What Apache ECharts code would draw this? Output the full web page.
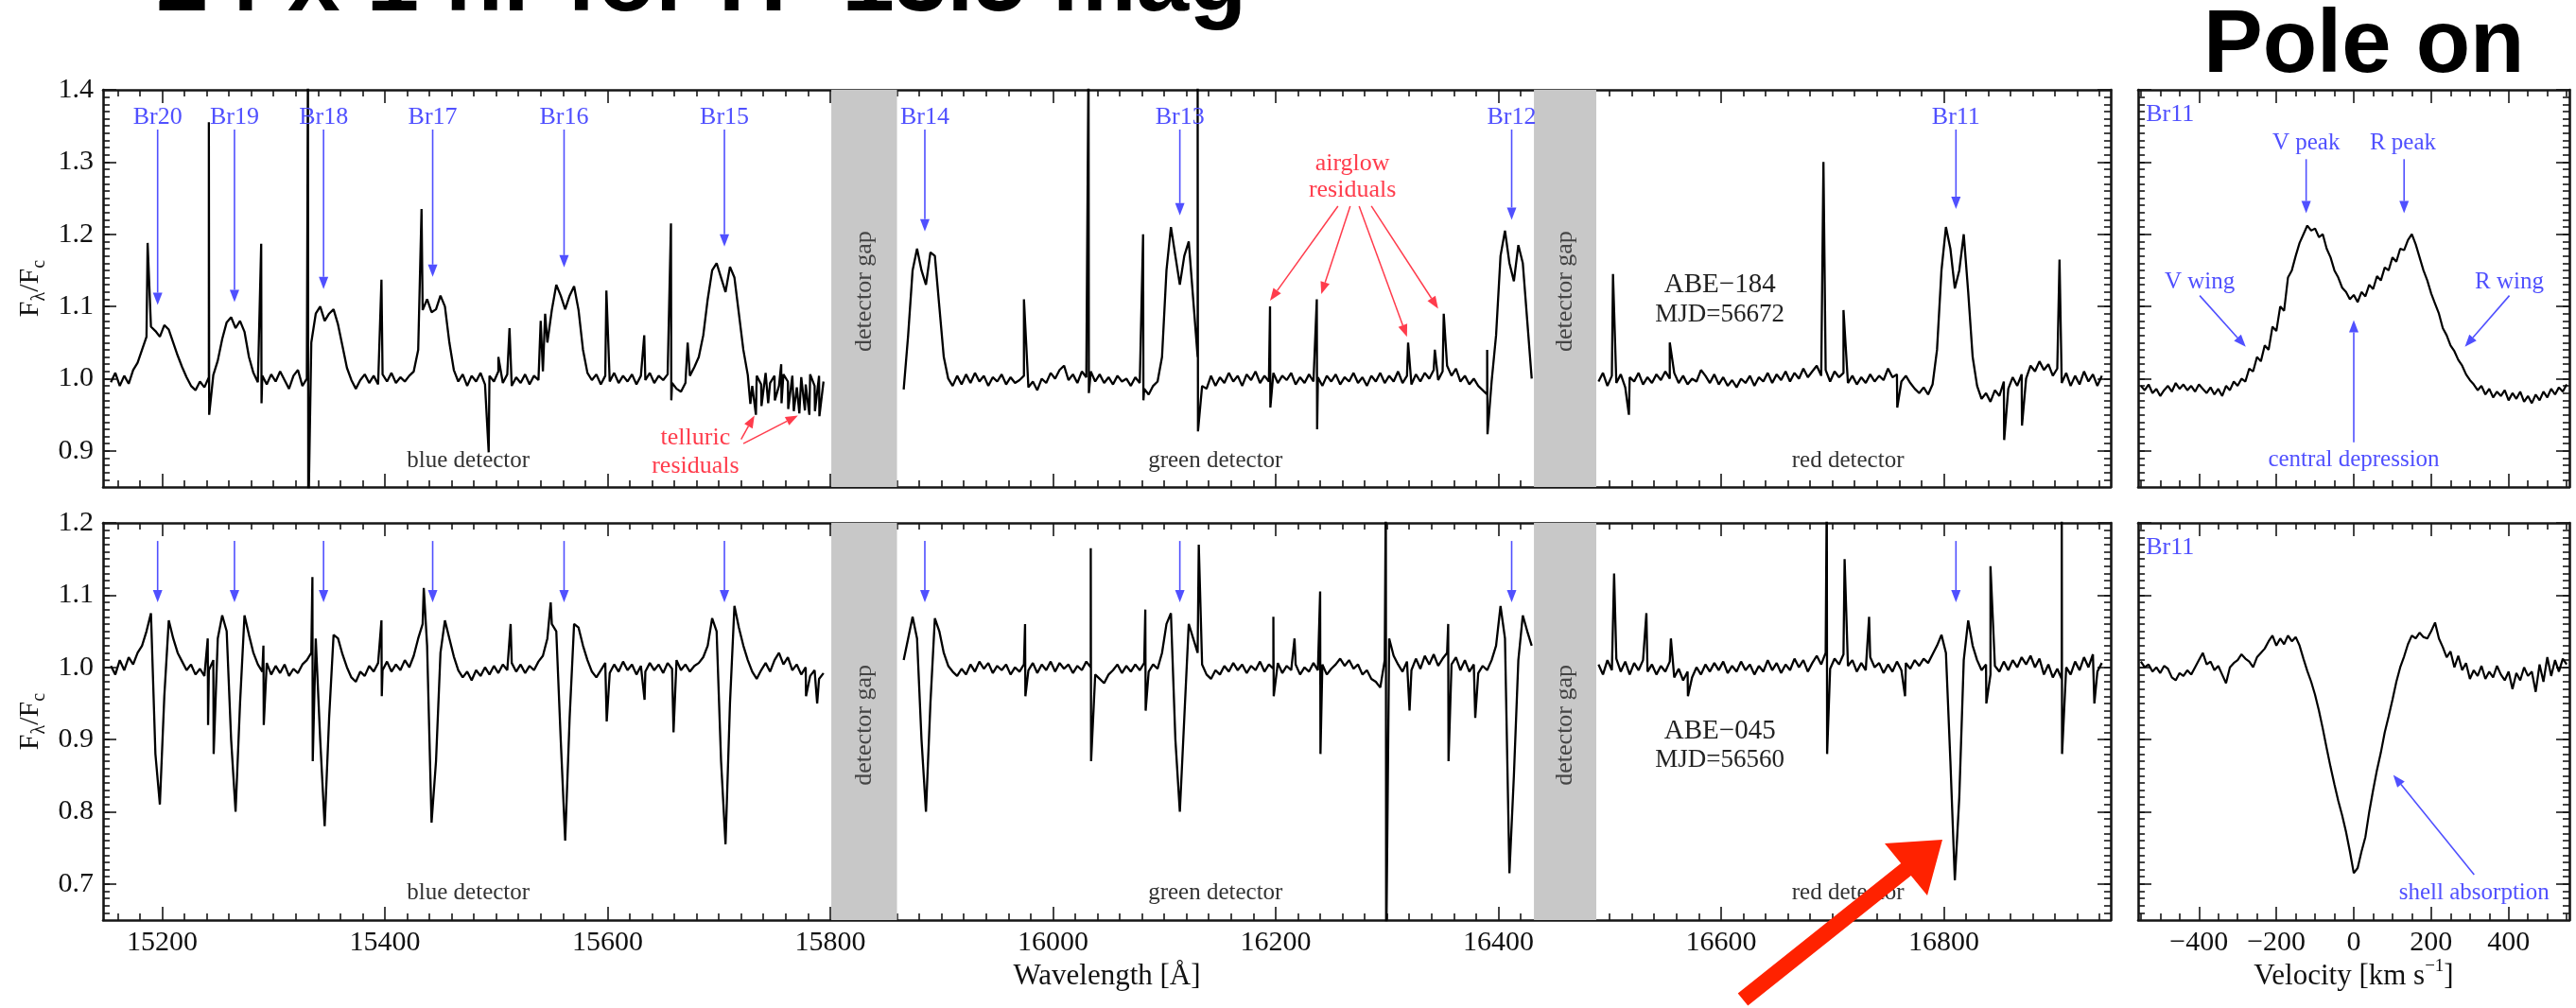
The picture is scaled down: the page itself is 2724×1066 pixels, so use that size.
<!DOCTYPE html>
<html><head><meta charset="utf-8">
<script src="https://cdn.jsdelivr.net/npm/echarts@6/dist/echarts.min.js"></script>
<style>html,body{margin:0;padding:0;background:#fff}#c{width:2724px;height:1066px}</style>
</head><body><div id="c"></div>
<script>
// ---------------- DATA ----------------
const STEP = 4; // Angstrom sampling of the spectra arrays
const blueStart = 15154, greenStart = 15866, redStart = 16490;

// ABE-184 (top, pole-on emitter)
const abe184Blue = [0.995,1.008,0.990,1.004,0.993,1.012,1.022,1.040,1.058,1.072,
1.066,1.058,1.074,1.068,1.050,1.032,1.016,1.002,0.990,0.984,
0.996,0.988,1.002,1.005,1.025,1.055,1.078,1.085,1.070,1.080,
1.065,1.030,1.008,0.995,1.004,0.992,1.006,0.996,1.010,0.998,
0.986,1.004,1.012,0.990,1.000,1.050,1.090,1.100,1.080,1.090,
1.096,1.075,1.045,1.015,0.998,0.986,0.998,1.006,0.994,1.004,
0.992,1.006,0.996,1.008,0.994,1.002,0.996,1.004,1.010,1.040,
1.095,1.110,1.092,1.096,1.115,1.100,1.050,1.012,0.996,1.006,
0.990,1.004,0.996,1.008,0.992,1.004,0.996,1.010,0.994,1.006,
0.990,1.002,0.994,1.006,0.992,1.004,0.998,1.010,1.050,1.095,
1.130,1.115,1.096,1.115,1.128,1.095,1.040,1.008,0.998,1.006,
0.992,1.004,0.996,1.008,0.994,1.004,0.996,1.006,0.992,1.004,
0.998,1.008,0.994,1.004,0.998,1.006,0.994,0.986,0.982,0.994,
1.004,1.016,1.030,1.060,1.110,1.150,1.160,1.140,1.120,1.155,
1.140,1.090,1.040,1.005,0.990,1.004,0.992,1.008,0.994,1.004,
0.990,1.006,0.996,1.004,0.988,1.002,0.992,1.006,0.990,1.004,0.996];
const abe184Green = [0.985,1.060,1.150,1.180,1.150,1.130,1.175,1.170,1.100,1.030,
1.000,0.990,1.004,0.992,1.006,0.994,1.008,0.996,1.004,0.990,
1.002,0.996,1.006,0.992,1.002,0.994,0.998,1.004,0.988,0.996,
0.984,1.000,0.994,1.008,1.000,1.012,1.018,0.998,1.006,0.994,
1.010,1.002,1.010,0.996,1.006,0.994,1.002,0.992,1.004,0.996,
1.000,0.990,1.002,0.994,0.986,0.978,0.990,0.996,1.030,1.150,
1.210,1.170,1.130,1.170,1.190,1.110,1.030,0.990,0.986,1.004,
0.990,1.002,0.994,1.008,0.996,1.004,0.990,1.006,0.998,1.010,
0.994,1.004,0.996,1.008,0.994,1.004,0.998,1.008,0.992,1.002,
0.994,1.006,0.996,1.002,0.990,1.004,0.996,1.006,0.992,1.002,
0.996,1.008,0.994,1.002,0.990,1.004,0.996,1.008,0.994,1.004,
0.996,1.010,0.994,1.004,0.992,1.006,0.996,1.008,1.000,1.012,
0.998,1.010,1.018,1.004,1.014,0.996,1.004,0.992,1.000,0.990,
0.984,0.978,0.996,1.060,1.170,1.205,1.160,1.135,1.185,1.160,
1.080,1.000];
const abe184Red = [0.996,1.008,0.990,1.004,0.994,1.006,0.988,1.002,0.996,1.008,
0.992,1.002,0.994,1.006,0.998,1.010,1.000,1.008,0.994,1.004,
0.992,1.000,0.996,1.012,1.004,0.994,1.006,0.992,1.002,0.990,
0.998,0.988,1.000,0.994,1.004,0.990,1.002,0.996,1.008,0.994,
1.006,0.998,1.010,0.996,1.008,1.000,1.014,1.002,1.010,1.018,
1.004,1.012,0.996,1.010,1.002,1.008,0.994,1.004,0.992,1.002,
0.994,1.006,0.996,1.004,0.998,1.014,1.002,1.006,0.996,1.004,
0.994,0.986,0.980,0.988,0.978,0.992,1.040,1.150,1.210,1.180,
1.125,1.150,1.200,1.120,1.030,0.990,0.972,0.980,0.968,0.984,
0.976,0.996,0.986,1.002,0.990,1.006,1.000,1.018,1.010,1.024,
1.012,1.020,1.004,1.014,0.994,1.008,0.990,1.004,0.992,1.010,
0.996,1.006,0.990,1.004];
// narrow residual spikes: [wavelength, top, bottom]
const abe184Spikes = [
[15187,1.188,null],[15242,1.355,0.950],[15289,1.187,0.966],[15331,1.45,0.80],
[15397,1.137,null],[15433,1.235,null],[15493,null,0.898],[15502,1.030,null],
[15512,1.070,null],[15540,1.080,null],[15544,1.090,null],[15599,1.122,null],
[15633,1.060,null],[15657,1.215,0.970],[15672,1.050,null],
[15728,null,0.965],[15733,null,0.950],[15738,null,0.962],[15744,null,0.966],
[15750,null,0.970],[15756,1.020,0.966],[15762,null,0.958],[15767,null,0.955],
[15772,null,0.952],[15777,null,0.956],[15781,null,0.950],[15786,null,0.955],[15790,null,0.948],
[15974,1.110,null],[16032,1.45,0.980],[16081,1.200,0.970],[16130,1.45,0.927],
[16195,1.100,0.960],[16237,1.110,0.930],[16319,1.050,null],[16343,1.040,null],
[16351,1.090,null],[16390,1.040,0.923],
[16503,1.145,null],[16517,null,0.950],[16554,1.050,null],[16692,1.300,null],
[16710,1.095,null],[16758,null,0.960],[16854,null,0.915],[16870,null,0.935],[16904,1.165,null]];

// ABE-045 (bottom, shell star)
const abe045Blue = [1.002,0.990,1.010,0.996,1.014,1.004,1.020,1.030,1.050,1.075,
0.880,0.810,0.960,1.065,1.040,1.020,1.008,0.996,1.004,0.990,
0.998,0.988,0.996,1.010,1.040,1.072,1.050,0.900,0.800,0.950,
1.072,1.045,1.020,1.004,0.994,1.006,0.990,1.002,0.992,1.004,
0.988,0.998,0.992,1.004,1.010,1.020,1.040,0.900,0.780,0.930,
1.045,1.040,1.018,1.000,0.986,0.980,0.994,0.988,1.002,0.994,
1.006,0.996,1.008,0.994,1.004,0.996,1.010,1.000,1.016,1.040,
1.060,1.030,0.785,0.870,1.020,1.065,1.040,1.015,0.996,0.986,
0.994,0.982,0.996,0.988,1.000,0.990,1.002,0.992,1.004,0.996,
1.006,0.994,1.004,0.992,1.002,0.996,1.008,1.016,1.040,1.060,
1.050,0.900,0.760,0.930,1.060,1.055,1.030,1.010,0.994,0.986,
0.996,1.006,0.992,1.004,0.994,1.008,0.996,1.004,0.990,1.002,
0.994,1.006,0.996,1.004,0.992,1.006,0.998,1.010,0.996,1.004,
0.994,1.002,1.006,1.014,1.030,1.068,1.050,0.870,0.755,0.950,
1.085,1.055,1.030,1.010,0.994,0.984,0.996,1.006,0.994,1.010,
1.020,1.004,1.014,0.996,1.004,0.990,1.000,0.988,0.996,0.984,0.992];
const abe045Green = [1.010,1.040,1.070,1.040,0.900,0.800,0.950,1.068,1.050,1.020,
1.002,0.994,0.988,0.998,0.990,1.004,0.994,1.008,0.998,1.006,
0.992,1.002,0.996,1.004,0.990,1.000,0.994,1.004,0.996,1.006,
0.992,1.004,0.996,1.008,0.994,1.006,0.998,1.004,0.992,1.002,
0.996,1.008,1.000,0.990,0.984,0.978,0.990,0.996,1.004,0.992,
1.002,0.994,1.004,0.996,1.006,0.994,1.004,0.998,1.020,1.060,
1.075,0.900,0.800,0.930,1.060,1.040,1.020,1.004,0.990,0.984,
0.996,0.990,1.002,0.994,1.006,0.996,1.004,0.992,1.002,0.996,
1.008,0.994,1.004,0.998,1.006,0.992,1.002,0.996,1.004,0.990,
1.000,0.994,1.006,0.996,1.004,0.990,0.998,1.004,1.012,1.002,
1.010,0.998,1.004,0.990,0.996,0.984,0.980,0.972,1.010,1.040,
1.016,1.004,0.994,1.008,0.996,1.012,0.998,1.016,1.004,1.018,
1.002,1.012,1.020,1.004,1.014,0.996,1.010,0.994,1.004,0.992,
1.002,0.996,1.010,1.030,1.085,1.040,0.715,0.850,1.010,1.072,
1.050,1.030];
const abe045Red = [1.004,0.990,1.010,0.996,1.012,0.994,1.008,0.990,1.006,0.996,
1.010,0.994,1.004,0.990,1.002,0.994,1.008,0.986,0.998,0.982,
0.994,0.986,1.000,0.990,1.004,0.994,1.006,0.996,1.008,0.992,
1.002,0.994,1.008,0.996,1.004,0.990,1.002,0.994,1.010,0.996,
1.006,0.992,1.004,0.996,1.012,1.000,1.010,0.994,1.006,1.016,
1.004,1.020,0.998,1.012,1.004,1.018,1.002,1.010,0.994,1.006,
0.996,1.014,1.000,1.006,0.992,1.004,0.994,1.008,0.996,1.006,
0.998,1.010,1.002,1.012,1.006,1.018,1.030,1.045,1.020,0.870,
0.705,0.820,1.010,1.065,1.030,1.010,0.996,1.004,0.990,1.002,
0.994,1.008,0.996,1.010,1.000,1.014,1.004,1.016,1.000,1.012,
0.990,1.004,0.986,0.998,0.984,1.000,0.990,1.008,0.996,1.014,
1.000,1.018,0.994,1.006];
const abe045Spikes = [
[15241,1.040,0.920],[15246,null,0.880],[15291,1.030,0.920],[15335,1.125,0.870],
[15397,1.065,0.960],[15435,1.110,null],[15513,1.060,null],[15549,1.090,null],
[15599,null,0.925],[15633,null,0.955],[15659,null,0.910],[15778,null,0.960],[15788,null,0.950],
[15975,1.060,0.960],[16034,1.165,0.870],[16083,1.080,0.940],[16131,1.170,null],
[16198,1.070,0.960],[16217,1.040,null],[16240,1.105,0.880],[16299,1.25,0.60],
[16320,null,0.940],[16355,1.060,0.870],[16379,null,0.930],
[16504,1.130,null],[16533,1.075,null],[16555,1.040,null],[16570,null,0.960],
[16695,1.25,0.880],[16711,1.150,null],[16733,1.070,null],[16765,null,0.960],
[16838,null,0.950],[16842,1.140,null],[16906,1.25,0.880],[16935,null,0.950]];

// Br11 in velocity space (km/s), grid starts at -550, step 10
const velStart = -550, velStep = 10;
const br11PoleOn = [0.990,0.984,0.992,0.980,0.986,0.976,0.984,0.990,0.982,0.994,
0.986,0.992,0.984,0.990,0.982,0.992,0.986,0.980,0.988,0.978,
0.986,0.976,0.990,0.984,0.996,0.990,1.000,0.996,1.014,1.010,
1.030,1.024,1.046,1.040,1.072,1.066,1.100,1.094,1.140,1.150,
1.170,1.188,1.200,1.212,1.205,1.208,1.196,1.200,1.180,1.168,
1.150,1.140,1.126,1.120,1.110,1.116,1.106,1.120,1.114,1.130,
1.124,1.142,1.136,1.154,1.150,1.168,1.162,1.180,1.178,1.192,
1.200,1.186,1.168,1.150,1.136,1.118,1.104,1.090,1.070,1.060,
1.046,1.038,1.026,1.018,1.006,0.998,0.992,0.984,0.990,0.978,
0.986,0.974,0.982,0.976,0.984,0.970,0.980,0.972,0.982,0.968,
0.976,0.966,0.978,0.970,0.982,0.974,0.986,0.978,0.988,0.982,0.992];
const br11Shell = [1.008,1.000,1.004,0.994,1.000,0.992,1.002,0.998,0.986,0.982,
0.992,0.988,0.996,0.990,1.000,1.010,1.020,1.004,1.008,0.996,
1.002,0.990,0.978,1.000,1.006,1.010,1.018,1.012,1.008,1.000,
1.014,1.020,1.026,1.036,1.044,1.030,1.040,1.032,1.044,1.036,
1.042,1.030,1.012,0.995,0.980,0.962,0.940,0.915,0.888,0.862,
0.838,0.815,0.795,0.772,0.745,0.715,0.722,0.745,0.765,0.800,
0.830,0.858,0.882,0.910,0.932,0.955,0.980,1.000,1.015,1.032,
1.044,1.040,1.048,1.042,1.040,1.050,1.062,1.040,1.028,1.014,
1.022,1.000,1.016,0.996,1.006,0.984,0.996,0.988,1.002,0.984,
0.994,0.986,1.002,0.990,0.982,0.994,0.970,0.992,0.982,1.000,
0.988,0.994,0.966,1.004,0.980,1.014,0.988,1.010,0.994,1.012,1.004];

// Line identifications
const brLambda = [15196,15265,15345,15443,15561,15705,15885,16114,16412,16811];
const brNames = ['Br20','Br19','Br18','Br17','Br16','Br15','Br14','Br13','Br12','Br11'];
const brArrowTipTop = [1.102,1.106,1.124,1.141,1.154,1.183,1.204,1.226,1.220,1.235];
const detectorGaps = [[15801,15860],[16432,16488]];

// Tick labels
const wlTicks = [15200,15400,15600,15800,16000,16200,16400,16600,16800];
const velTicks = [-400,-200,0,200,400];
const fluxTicksTop = [0.9,1.0,1.1,1.2,1.3,1.4];
const fluxTicksBot = [0.7,0.8,0.9,1.0,1.1,1.2];

// ---------------- CHART ----------------
const chart = echarts.init(document.getElementById('c'), null, {renderer:'canvas'});
const SERIF = '"Liberation Serif","DejaVu Serif",serif';

function range(a, b, s, skip) {
  const out = [];
  for (let v = a; v <= b + 1e-9; v += s) {
    const r = Math.round(v * 1000) / 1000;
    if (!skip || !skip(r)) out.push(r);
  }
  return out;
}
const wlMinor = range(15160, 16940, 20, v => v % 200 === 0);
const velMinor = range(-550, 550, 50, v => v % 200 === 0);
const fTopMinor = range(0.86, 1.39, 0.01);
const fBotMinor = range(0.66, 1.19, 0.01);

const GRIDS = [
  {left:109, top:95, width:2123, height:420},
  {left:2261, top:95, width:456, height:420},
  {left:109, top:553, width:2123, height:420},
  {left:2261, top:553, width:456, height:420}
];
const XR = [[15147,16950],[-557,557],[15147,16950],[-557,557]];
const YR = [[0.85,1.40],[0.85,1.40],[0.65,1.20],[0.65,1.20]];
const XMAJ = [wlTicks, velTicks, wlTicks, velTicks];
const XMIN = [wlMinor, velMinor, wlMinor, velMinor];
const YMAJ = [fluxTicksTop, fluxTicksTop, fluxTicksBot, fluxTicksBot];
const YMIN = [fTopMinor, fTopMinor, fBotMinor, fBotMinor];

const xAxes = [], yAxes = [], xMain = [], yMain = [];
function addAxis(list, g, pos, rng, vals, major, labelOn, fmt, margin) {
  list.push({
    type:'value', gridIndex:g, position:pos, min:rng[0], max:rng[1],
    axisLine:{show:major, onZero:false, lineStyle:{color:'#161616', width:2.6}},
    axisTick:{show:true, inside:true, length: major ? 14 : 7, customValues: vals,
              lineStyle:{color:'#161616', width:1.6}},
    axisLabel:{show:labelOn, customValues: vals, formatter: fmt || (v => String(v)), margin: margin || 8,
               color:'#111', fontFamily: SERIF, fontSize:30},
    splitLine:{show:false}, minorTick:{show:false}, splitArea:{show:false}
  });
  return list.length - 1;
}
const fmtX = v => String(v).replace('-', '\u2212');
const fmtY = v => Number(v).toFixed(1);
for (let g = 0; g < 4; g++) {
  xMain[g] = addAxis(xAxes, g, 'bottom', XR[g], XMAJ[g], true, g >= 2, fmtX, 9);
  addAxis(xAxes, g, 'bottom', XR[g], XMIN[g], false, false);
  addAxis(xAxes, g, 'top', XR[g], XMAJ[g], true, false);
  addAxis(xAxes, g, 'top', XR[g], XMIN[g], false, false);
  yMain[g] = addAxis(yAxes, g, 'left', YR[g], YMAJ[g], true, g === 0 || g === 2, fmtY, 10);
  addAxis(yAxes, g, 'left', YR[g], YMIN[g], false, false);
  addAxis(yAxes, g, 'right', YR[g], YMAJ[g], true, false);
  addAxis(yAxes, g, 'right', YR[g], YMIN[g], false, false);
}

function segment(start, vals, spikes) {
  const pts = vals.map((v, i) => [start + i * STEP, v]);
  const lo = start, hi = start + (vals.length - 1) * STEP;
  spikes.forEach(s => {
    if (s[0] >= lo && s[0] <= hi) {
      if (s[1] != null) pts.push([s[0], s[1]]);
      if (s[2] != null) pts.push([s[0] + 0.3, s[2]]);
    }
  });
  pts.sort((a, b) => a[0] - b[0]);
  return pts;
}
function velSeries(vals) { return vals.map((v, i) => [velStart + i * velStep, v]); }

function lineSeries(g, data, w) {
  return {type:'line', xAxisIndex:xMain[g], yAxisIndex:yMain[g], data, showSymbol:false, symbol:'none',
          lineStyle:{color:'#000', width:w || 2.3}, z:3, clip:true, animation:false};
}
function gapSeries(g) {
  return {type:'line', xAxisIndex:xMain[g], yAxisIndex:yMain[g], data:[[15830, 1.0]], showSymbol:false,
          symbol:'none', lineStyle:{width:0, opacity:0}, z:1, silent:true,
          markArea:{silent:true, itemStyle:{color:'#c8c8c8'},
                    data: detectorGaps.map(d => [{xAxis:d[0]}, {xAxis:d[1]}])}};
}

const series = [
  gapSeries(0), gapSeries(2),
  lineSeries(0, segment(blueStart, abe184Blue, abe184Spikes)),
  lineSeries(0, segment(greenStart, abe184Green, abe184Spikes)),
  lineSeries(0, segment(redStart, abe184Red, abe184Spikes)),
  lineSeries(1, velSeries(br11PoleOn), 2.2),
  lineSeries(2, segment(blueStart, abe045Blue, abe045Spikes)),
  lineSeries(2, segment(greenStart, abe045Green, abe045Spikes)),
  lineSeries(2, segment(redStart, abe045Red, abe045Spikes)),
  lineSeries(3, velSeries(br11Shell), 2.2)
];

chart.setOption({animation:false, backgroundColor:'#fff', grid: GRIDS, xAxis: xAxes, yAxis: yAxes, series});

// ---------------- ANNOTATIONS ----------------
const els = [];
const BLUE = '#5050ff', RED = '#ff3c4c', DARK = '#222';
function P(g, x, y) { return chart.convertToPixel({xAxisIndex:xMain[g], yAxisIndex:yMain[g]}, [x, y]); }
function arrowPx(a, b, color, w, hl, hw) {
  const dx = b[0]-a[0], dy = b[1]-a[1], L = Math.hypot(dx, dy), ux = dx/L, uy = dy/L;
  const bx = b[0]-ux*hl, by = b[1]-uy*hl;
  els.push({type:'line', z:10, shape:{x1:a[0], y1:a[1], x2:bx, y2:by}, style:{stroke:color, lineWidth:w}});
  els.push({type:'polygon', z:10, shape:{points:[[b[0],b[1]],[bx-uy*hw, by+ux*hw],[bx+uy*hw, by-ux*hw]]}, style:{fill:color}});
}
function arrow(g, x1, y1, x2, y2, color, w) { arrowPx(P(g,x1,y1), P(g,x2,y2), color, w || 1.6, 13, 5); }
function txtPx(x, y, s, o) {
  o = o || {};
  els.push({type:'text', z:11, x, y, rotation:o.rot || 0,
    style:{x:0, y:0, text:s, fill:o.color || DARK, font:(o.weight || 'normal') + ' ' + (o.size || 26) + 'px ' + (o.family || SERIF),
      align:o.align || 'center', textAlign:o.align || 'center', verticalAlign:'middle', textVerticalAlign:'middle', rich:o.rich}});
}
function txt(g, x, y, s, o) { const p = P(g, x, y); txtPx(p[0], p[1], s, o); }

// line IDs, top & bottom
brLambda.forEach((l, i) => {
  txt(0, l, 1.362, brNames[i], {color:BLUE, size:26});
  arrow(0, l, 1.345, l, brArrowTipTop[i], BLUE);
  arrow(2, l, 1.175, l, 1.090, BLUE);
});
// detector gaps & detector names
[0, 2].forEach(g => {
  const yg = g === 0 ? 1.121 : 0.92, yd = g === 0 ? 0.886 : 0.6875;
  detectorGaps.forEach(d => txt(g, (d[0]+d[1])/2, yg, 'detector gap', {rot:Math.PI/2, color:'#444', size:26}));
  txt(g, 15475, yd, 'blue detector', {size:25, color:'#333'});
  txt(g, 16146, yd, 'green detector', {size:25, color:'#333'});
  txt(g, 16714, yd, 'red detector', {size:25, color:'#333'});
});
txt(0, 16599, 1.130, 'ABE\u2212184', {size:29, color:DARK});
txt(0, 16599, 1.089, 'MJD=56672', {size:27, color:DARK});
txt(2, 16599, 0.911, 'ABE\u2212045', {size:29, color:DARK});
txt(2, 16599, 0.871, 'MJD=56560', {size:27, color:DARK});
// telluric / airglow
txt(0, 15679, 0.918, 'telluric', {color:RED, size:26});
txt(0, 15679, 0.879, 'residuals', {color:RED, size:26});
arrow(0, 15720, 0.916, 15732, 0.949, RED, 1.5);
arrow(0, 15722, 0.910, 15771, 0.949, RED, 1.5);
txt(0, 16269, 1.298, 'airglow', {color:RED, size:26});
txt(0, 16269, 1.261, 'residuals', {color:RED, size:26});
arrow(0, 16256, 1.239, 16195, 1.108, RED, 1.5);
arrow(0, 16267, 1.239, 16241, 1.117, RED, 1.5);
arrow(0, 16275, 1.239, 16318, 1.058, RED, 1.5);
arrow(0, 16286, 1.239, 16346, 1.097, RED, 1.5);
// right panels
txt(1, -537, 1.366, 'Br11', {color:BLUE, size:26, align:'left'});
txt(1, -123, 1.326, 'V peak', {color:BLUE, size:25});
arrow(1, -123, 1.304, -123, 1.229, BLUE);
txt(1, 127, 1.326, 'R peak', {color:BLUE, size:25});
arrow(1, 130, 1.304, 130, 1.229, BLUE);
txt(1, -398, 1.134, 'V wing', {color:BLUE, size:25});
arrow(1, -398, 1.115, -279, 1.044, BLUE);
txt(1, 402, 1.134, 'R wing', {color:BLUE, size:25});
arrow(1, 402, 1.115, 287, 1.044, BLUE);
txt(1, 0, 0.888, 'central depression', {color:BLUE, size:25});
arrow(1, 0, 0.912, 0, 1.081, BLUE);
txt(3, -537, 1.166, 'Br11', {color:BLUE, size:26, align:'left'});
txt(3, 311, 0.688, 'shell absorption', {color:BLUE, size:25});
arrow(3, 311, 0.713, 102, 0.851, BLUE);

// axis titles
const yRich = {a:{fontSize:30, fontFamily:SERIF, fill:'#111', lineHeight:40, verticalAlign:'middle'},
               b:{fontSize:20, fontFamily:SERIF, fill:'#111', verticalAlign:'bottom'}};
txtPx(32, 305, '{a|F}{b|\u03bb}{a|/F}{b|c}', {rot:Math.PI/2, rich:yRich, size:30});
txtPx(32, 763, '{a|F}{b|\u03bb}{a|/F}{b|c}', {rot:Math.PI/2, rich:yRich, size:30});
txtPx(109 + 2123/2, 1033, 'Wavelength [\u00c5]', {size:31, color:'#111'});
const vRich = {a:{fontSize:31, fontFamily:SERIF, fill:'#111', lineHeight:40, verticalAlign:'middle'},
               p:{fontSize:19, fontFamily:SERIF, fill:'#111', verticalAlign:'top'}};
txtPx(2261 + 456/2, 1033, '{a|Velocity [km s}{p|\u22121}{a|]}', {rich:vRich, size:31});

// big titles (partly outside the page at the top, as in the reference)
els.push({type:'text', z:12, x:165, y:33, style:{x:0, y:0, text:'24 x 1 hr for H~13.5 mag', fill:'#000',
  font:'bold 100px "Liberation Sans", Arial, sans-serif', align:'left', textAlign:'left', verticalAlign:'bottom', textVerticalAlign:'bottom'}});
els.push({type:'text', z:12, x:2330, y:97, style:{x:0, y:0, text:'Pole on', fill:'#000',
  font:'bold 94px "Liberation Sans", Arial, sans-serif', align:'left', textAlign:'left', verticalAlign:'bottom', textVerticalAlign:'bottom'}});

// red pointer arrow
els.push({type:'polygon', z:20, shape:{points:[[2054,888],[2038,947],[2020.8,926.1],[1848.3,1063.6],[1837.7,1050.4],[2010.2,912.9],[1993,892]]},
  style:{fill:'#ff2200'}});

chart.setOption({graphic: els});
</script>
</body></html>
